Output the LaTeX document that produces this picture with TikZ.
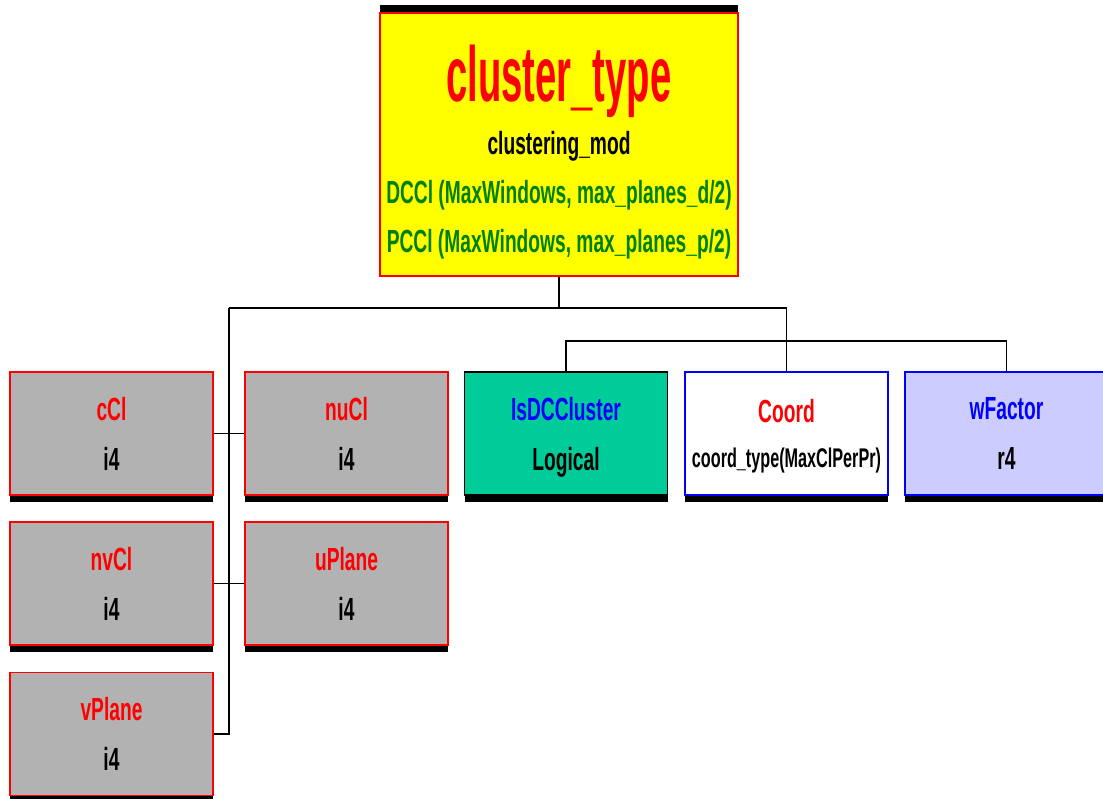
\documentclass[tikz,border=0pt]{standalone}
\usepackage{fontspec}
\usetikzlibrary{shadows}
\newfontfamily\lab[FakeStretch=0.6]{Liberation Sans}
\newfontfamily\ttl[FakeStretch=0.49]{Liberation Sans}
\definecolor{boxgray}{HTML}{B2B2B2}
\definecolor{teal}{HTML}{00CC99}
\definecolor{lav}{HTML}{CCCCFF}
\definecolor{dgreen}{HTML}{008000}
\definecolor{pureyellow}{HTML}{FFFF00}
\tikzset{
  box/.style={draw, line width=1.5pt, minimum width=203pt, minimum height=123pt,
    inner sep=0pt, align=center,
    font=\lab\bfseries\fontsize{32}{50}\selectfont,
    general shadow={fill=black, shadow yshift=-7pt, rounded corners=3pt}},
  grey/.style={box, draw=red, fill=boxgray},
  wire/.style={line width=1.8pt, black},
}
\begin{document}
\begin{tikzpicture}[x=1pt,y=-1pt]
\useasboundingbox (0,0) rectangle (1103,799);
% root structure
\node[draw=red, fill=pureyellow, line width=1.5pt, minimum width=358pt, minimum height=263pt,
  inner sep=0pt, align=center, font=\lab\bfseries\fontsize{32}{49}\selectfont,
  general shadow={fill=black, shadow yshift=8pt, rounded corners=2pt}]
  (root) at (559,144.5)
  {{\ttl\bfseries\fontsize{78}{78}\selectfont\color{red}\rule{0pt}{66pt}cluster\_type}\\[4pt]
   clustering\_mod\\
   \color{dgreen}DCCl (MaxWindows, max\_planes\_d/2)\\
   \color{dgreen}\smash{PCCl (MaxWindows, max\_planes\_p/2)}};
% integer members
\node[grey] (cCl)    at (111.5,433.5) {\color{red}cCl\\i4};
\node[grey] (nuCl)   at (346.5,433.5) {\color{red}nuCl\\i4};
\node[grey] (nvCl)   at (111.5,583.5) {\color{red}nvCl\\i4};
\node[grey] (uPlane) at (346.5,583.5) {\color{red}uPlane\\i4};
\node[grey] (vPlane) at (111.5,734)   {\color{red}vPlane\\i4};
% other members
\node[box, draw=black, fill=teal] (isdc) at (566,433.5)
  {\color{blue}IsDCCluster\\\smash{Logical}};
\node[box, draw=blue, fill=white] (coord) at (786.5,433.5)
  {\color{red}Coord\\[-5pt]{\fontsize{27}{27}\selectfont\smash{coord\_type(MaxClPerPr)}}};
\node[box, draw=blue, fill=lav] (wf) at (1006.5,433.5)
  {\color{blue}wFactor\\r4};
% connectors
\coordinate (busL) at (229,308);
\coordinate (busR) at (786.5,308);
\coordinate (bus2) at (786.5,341);
\draw[wire] (root.south) |- (busL);
\draw[wire] (busL) -- (busR);
\draw[wire] (busR) -- (coord.north);
\draw[wire] (busL) |- (vPlane.east);
\draw[wire] (cCl.east) -- (nuCl.west);
\draw[wire] (nvCl.east) -- (uPlane.west);
\draw[wire] (isdc.north) -- (isdc.north |- bus2) -| (wf.north);
\end{tikzpicture}
\end{document}
